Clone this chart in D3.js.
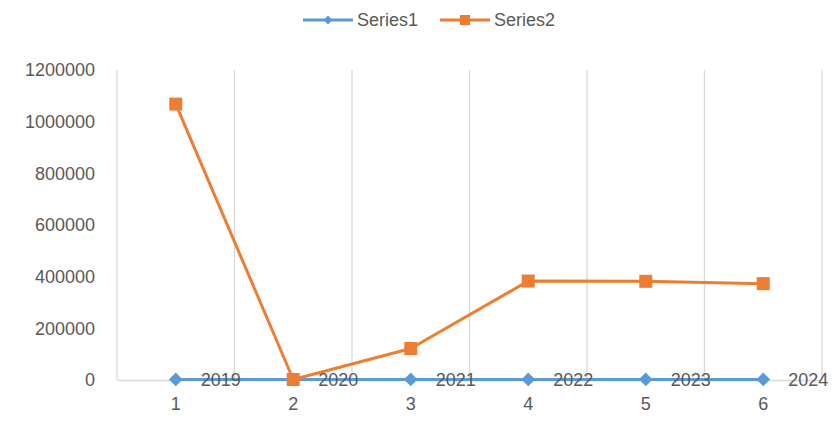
<!DOCTYPE html>
<html>
<head>
<meta charset="utf-8">
<script src="https://cdn.jsdelivr.net/npm/d3@7"></script>
<style>
  body { margin: 0; background: #fff; }
  text { font-family: "Liberation Sans", Arial, sans-serif; fill: #595959; }
</style>
</head>
<body>
<svg id="chart" width="839" height="427"></svg>
<script>
// chart data
var categories = ["1", "2", "3", "4", "5", "6"];
var series1 = [2019, 2020, 2021, 2022, 2023, 2024];
var series2 = [1068000, 2000, 122000, 383000, 382000, 373000];
var yTicks = [0, 200000, 400000, 600000, 800000, 1000000, 1200000];
var seriesNames = ["Series1", "Series2"];

var svg = d3.select("#chart"),
    margin = {top: 70, right: 17, bottom: 47, left: 117},
    width = +svg.attr("width") - margin.left - margin.right,
    height = +svg.attr("height") - margin.top - margin.bottom,
    g = svg.append("g").attr("transform", "translate(" + margin.left + "," + margin.top + ")");

var colors = ["#5b9bd5", "#ed7d31"];

var x = d3.scaleBand()
    .domain(categories)
    .range([0, width]);

var y = d3.scaleLinear()
    .domain([0, 1200000])
    .range([height, 0]);

function cx(i) {
    return x(categories[i]) + x.bandwidth() / 2;
}

// vertical gridlines at category boundaries
var bounds = categories.map(function (c) { return x(c); }).concat([width]);
g.append("g")
    .selectAll("line")
    .data(bounds)
    .enter().append("line")
    .attr("x1", function (d) { return d; })
    .attr("x2", function (d) { return d; })
    .attr("y1", 0)
    .attr("y2", height)
    .attr("stroke", "#d9d9d9")
    .attr("stroke-width", 1.3);

// category axis
var xAxis = g.append("g")
    .attr("transform", "translate(0," + height + ")")
    .call(d3.axisBottom(x).tickSize(0).tickPadding(17));
xAxis.select(".domain").attr("stroke", "#d9d9d9").attr("stroke-width", 1.3);
xAxis.selectAll("text")
    .style("font-family", "Liberation Sans, Arial, sans-serif")
    .style("font-size", "18px")
    .attr("fill", "#595959");

// value axis
var yAxis = g.append("g")
    .call(d3.axisLeft(y).tickValues(yTicks).tickSize(0).tickPadding(22).tickFormat(d3.format("d")));
yAxis.select(".domain").remove();
yAxis.selectAll("text")
    .style("font-family", "Liberation Sans, Arial, sans-serif")
    .style("font-size", "18px")
    .attr("fill", "#595959");

var line = d3.line()
    .x(function (d, i) { return cx(i); })
    .y(function (d) { return y(d); });

var allSeries = [series1, series2];

allSeries.forEach(function (s, k) {
    g.append("path")
        .attr("d", line(s))
        .attr("fill", "none")
        .attr("stroke", colors[k])
        .attr("stroke-width", 3)
        .attr("stroke-linejoin", "round");
});

// series1 markers (diamonds)
g.append("g")
    .selectAll("path")
    .data(series1)
    .enter().append("path")
    .attr("d", d3.symbol().type(d3.symbolSquare).size(95))
    .attr("transform", function (d, i) {
        return "translate(" + cx(i) + "," + y(d) + ") rotate(45)";
    })
    .attr("fill", colors[0]);

// series2 markers (squares)
g.append("g")
    .selectAll("path")
    .data(series2)
    .enter().append("path")
    .attr("d", d3.symbol().type(d3.symbolSquare).size(169))
    .attr("transform", function (d, i) {
        return "translate(" + cx(i) + "," + y(d) + ")";
    })
    .attr("fill", colors[1]);

// series1 data labels, to the right
g.append("g")
    .selectAll("text")
    .data(series1)
    .enter().append("text")
    .attr("x", function (d, i) { return cx(i) + 25; })
    .attr("y", function (d) { return y(d); })
    .attr("dy", "0.35em")
    .attr("font-size", 18)
    .text(function (d) { return d; });

// legend
var legendItems = [
    {name: seriesNames[0], x: 303, symbol: d3.symbolSquare, size: 40, rot: 45},
    {name: seriesNames[1], x: 440, symbol: d3.symbolSquare, size: 100, rot: 0}
];
var legend = svg.append("g")
    .selectAll("g")
    .data(legendItems)
    .enter().append("g")
    .attr("transform", function (d) { return "translate(" + d.x + ",20)"; });

legend.append("line")
    .attr("x1", 0)
    .attr("x2", 50)
    .attr("stroke", function (d, i) { return colors[i]; })
    .attr("stroke-width", 3);

legend.append("path")
    .attr("d", function (d) { return d3.symbol().type(d.symbol).size(d.size)(); })
    .attr("transform", function (d) { return "translate(25,0) rotate(" + d.rot + ")"; })
    .attr("fill", function (d, i) { return colors[i]; });

legend.append("text")
    .attr("x", 54)
    .attr("dy", "0.35em")
    .attr("font-size", 18)
    .text(function (d) { return d.name; });
</script>
</body>
</html>
